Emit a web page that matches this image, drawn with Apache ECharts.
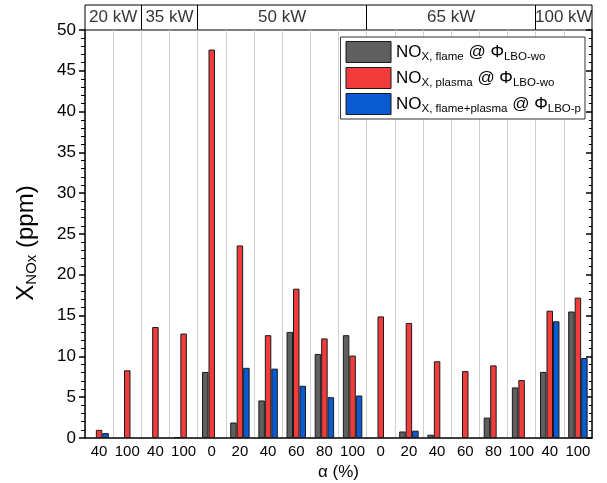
<!DOCTYPE html>
<html><head><meta charset="utf-8">
<script src="https://cdn.jsdelivr.net/npm/echarts@6/dist/echarts.min.js"></script>
<style>html,body{margin:0;padding:0;background:#fff}#c{width:607px;height:483px}</style>
</head><body><div id="c"></div>
<script>
const alphaLabels = ['40','100','40','100','0','20','40','60','80','100','0','20','40','60','80','100','40','100'];
const groupNames = ['20 kW','35 kW','50 kW','65 kW','100 kW'];
const groupSizes = [2,2,6,6,2];
const flame = [null,null,null,0.1,8.1,1.9,4.6,13.0,10.3,12.6,null,0.8,0.4,null,2.5,6.2,8.1,15.5];
const plasma = [1.0,8.3,13.6,12.8,47.6,23.6,12.6,18.3,12.2,10.1,14.9,14.1,9.4,8.2,8.9,7.1,15.6,17.2];
const flamePlasma = [0.6,null,null,null,null,8.6,8.5,6.4,5.0,5.2,null,0.9,null,null,null,null,14.3,9.8];
const yTicks = {min:0,max:50,interval:5};

const FF = 'Liberation Sans, Arial, sans-serif';
const legendRich = {
  m:{fontSize:17,fontFamily:FF,color:'#000'},
  s:{fontSize:11.5,fontFamily:FF,color:'#000',padding:[9,0,0,0]}
};
const legendText = {
  'flame':'{m|NO}{s|X, flame}{m| @ Φ}{s|LBO-wo}',
  'plasma':'{m|NO}{s|X, plasma}{m| @ Φ}{s|LBO-wo}',
  'flame+plasma':'{m|NO}{s|X, flame+plasma}{m| @ Φ}{s|LBO-p}'
};

const groupLabelData = [];
const groupDividers = [];
let acc = 0;
groupSizes.forEach((n,i)=>{
  groupLabelData.push([acc + n/2, 0.5, groupNames[i]]);
  acc += n;
  if (i < groupSizes.length-1) groupDividers.push({xAxis:acc});
});

const chart = echarts.init(document.getElementById('c'));
const barStyle = c => ({color:c, borderColor:'#1a1a1a', borderWidth:1});
chart.setOption({
  animation:false,
  textStyle:{fontFamily:FF},
  grid:[
    {left:85,right:15,top:30,bottom:45,show:false,outerBoundsMode:'none',containLabel:false},
    {left:85,right:15,top:5,height:25,show:true,borderColor:'#000',borderWidth:1,outerBoundsMode:'none',containLabel:false}
  ],
  legend:{
    top:37,right:22,orient:'vertical',itemGap:4,itemWidth:45,itemHeight:21,icon:'rect',
    backgroundColor:'#fff',borderColor:'#333',borderWidth:1,padding:[4,4,4,5],
    data:['flame','plasma','flame+plasma'],
    formatter:n=>legendText[n],
    textStyle:{rich:legendRich},
    itemStyle:{borderColor:'#1a1a1a',borderWidth:1}
  },
  xAxis:[
    {type:'category',gridIndex:0,data:alphaLabels,
     axisLine:{lineStyle:{color:'#000',width:1.5}},axisTick:{show:false},
     axisLabel:{color:'#000',fontSize:15,margin:6,interval:0},
     splitLine:{show:true,lineStyle:{color:'#d0d0d0',width:1}},
     name:'α (%)',nameLocation:'middle',nameGap:23,nameTextStyle:{fontSize:17,color:'#000'}},
    {type:'value',gridIndex:1,min:0,max:alphaLabels.length,show:false}
  ],
  yAxis:[
    {type:'value',gridIndex:0,min:yTicks.min,max:yTicks.max,interval:yTicks.interval,
     axisLine:{show:true,lineStyle:{color:'#000',width:1.5}},
     axisTick:{show:true,length:6,lineStyle:{color:'#000',width:1.5}},
     minorTick:{show:true,splitNumber:5,length:4,lineStyle:{color:'#000',width:1}},
     axisLabel:{color:'#000',fontSize:17,margin:9},
     splitLine:{show:false},
     name:'{a|X}{b|NOx}{a| (ppm)}',nameLocation:'middle',nameGap:46,
     nameTextStyle:{padding:[0,18,0,0],rich:{a:{fontSize:24,fontFamily:FF,color:'#000'},b:{fontSize:15,fontFamily:FF,color:'#000',padding:[11,0,0,0]}}}},
    {type:'value',gridIndex:0,position:'right',min:yTicks.min,max:yTicks.max,interval:yTicks.interval,
     axisLine:{show:true,lineStyle:{color:'#000',width:1.5}},
     axisTick:{show:true,inside:true,length:6,lineStyle:{color:'#000',width:1.5}},
     minorTick:{show:true,splitNumber:5,length:3,lineStyle:{color:'#000',width:1}},
     axisLabel:{show:false},splitLine:{show:false}},
    {type:'value',gridIndex:1,min:0,max:1,show:false}
  ],
  series:[
    {name:'flame',type:'bar',data:flame,barWidth:'23%',barGap:'0%',itemStyle:barStyle('#5f5f5f')},
    {name:'plasma',type:'bar',data:plasma,barWidth:'23%',barGap:'0%',itemStyle:barStyle('#f23c3c')},
    {name:'flame+plasma',type:'bar',data:flamePlasma,barWidth:'23%',barGap:'0%',itemStyle:barStyle('#0a5ad2')},
    {type:'scatter',xAxisIndex:1,yAxisIndex:2,data:groupLabelData,symbolSize:0,silent:true,
     label:{show:true,position:'inside',formatter:p=>p.value[2],fontSize:17,color:'#000'},
     markLine:{silent:true,symbol:'none',label:{show:false},lineStyle:{color:'#000',width:1,type:'solid'},data:groupDividers}}
  ]
});
</script></body></html>
